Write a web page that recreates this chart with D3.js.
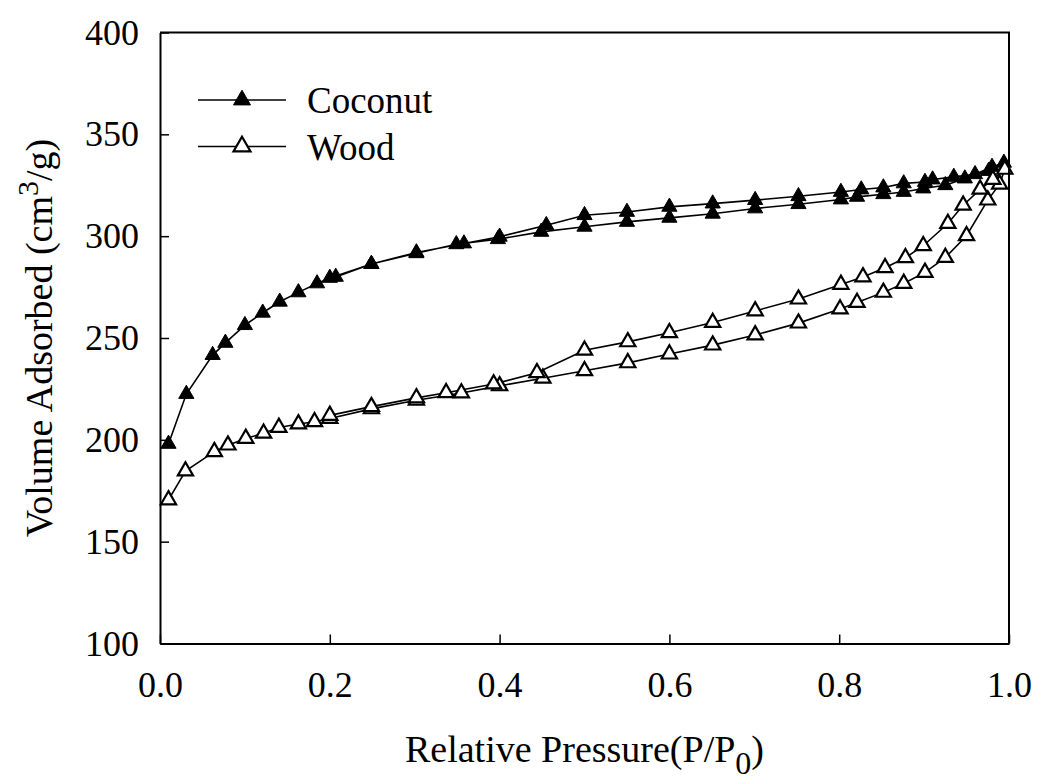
<!DOCTYPE html>
<html>
<head>
<meta charset="utf-8">
<script src="https://cdn.jsdelivr.net/npm/d3@7"></script>
</head>
<body style="margin:0">
<script>
// coconut, adsorption branch then desorption branch
const coconutAdsP = [0.010, 0.031, 0.062, 0.077, 0.100, 0.121, 0.141, 0.163, 0.185, 0.200, 0.249, 0.302, 0.349, 0.398, 0.449, 0.500, 0.550, 0.600, 0.651, 0.701, 0.752, 0.802, 0.821, 0.852, 0.876, 0.899, 0.925, 0.948, 0.976, 0.994]
const coconutAdsV = [198, 222.5, 241.6, 247.6, 256.3, 262.4, 267.8, 272.4, 276.8, 279.5, 286.3, 291.6, 296.0, 298.5, 302.1, 304.6, 307.0, 309.0, 311.0, 313.6, 315.7, 318.0, 319.3, 320.6, 321.7, 323.4, 325.0, 328.3, 332.0, 336.0]
const coconutDesP = [0.980, 0.960, 0.935, 0.910, 0.901, 0.876, 0.852, 0.826, 0.802, 0.752, 0.701, 0.651, 0.600, 0.550, 0.500, 0.455, 0.400, 0.358, 0.302, 0.249, 0.207]
const coconutDesV = [334.0, 330.4, 329.1, 327.8, 326.6, 325.9, 323.9, 322.9, 321.7, 319.6, 317.7, 316.0, 314.4, 311.9, 310.3, 305.4, 299.7, 296.4, 292.0, 286.3, 280.0]

// wood
const woodAdsP = [0.010, 0.030, 0.064, 0.080, 0.101, 0.122, 0.140, 0.163, 0.182, 0.200, 0.249, 0.302, 0.355, 0.400, 0.451, 0.500, 0.551, 0.600, 0.651, 0.701, 0.752, 0.801, 0.821, 0.852, 0.876, 0.901, 0.925, 0.950, 0.975, 0.989]
const woodAdsV = [170.5, 184.7, 194.2, 197.4, 200.7, 203.2, 206.1, 207.8, 208.9, 210.5, 215.2, 219.4, 223.0, 226.5, 230.2, 233.9, 237.8, 242.1, 246.5, 251.5, 257.3, 264.2, 267.4, 272.4, 276.8, 282.2, 289.5, 300.2, 317.7, 325.5]
const woodDesP = [0.995, 0.981, 0.966, 0.946, 0.928, 0.899, 0.878, 0.854, 0.828, 0.802, 0.752, 0.701, 0.651, 0.600, 0.551, 0.500, 0.444, 0.393, 0.337, 0.302, 0.249, 0.200]
const woodDesV = [332.8, 327.8, 323.0, 315.2, 306.2, 295.3, 289.4, 284.5, 280.0, 276.3, 269.1, 263.3, 257.6, 252.6, 248.1, 244.0, 232.9, 227.4, 223.1, 220.6, 216.3, 212.0]

const seriesNames = ['Coconut', 'Wood']
const xTicks = [0, 0.2, 0.4, 0.6, 0.8, 1.0]
const yTicks = [100, 150, 200, 250, 300, 350, 400]

const width = 1038
const height = 780
const margin = {top: 32.5, bottom: 136.5, left: 160, right: 29}
const serif = '"Liberation Serif"'

const toPoints = (p, v) => p.map((d, i) => ({x: d, y: v[i]}))

const series = [
  {name: seriesNames[0], filled: true,
   points: toPoints(coconutAdsP, coconutAdsV).concat(toPoints(coconutDesP, coconutDesV))},
  {name: seriesNames[1], filled: false,
   points: toPoints(woodAdsP, woodAdsV).concat(toPoints(woodDesP, woodDesV))}
]

const svg = d3.select('body')
  .append('svg')
  .attr('width', width)
  .attr('height', height)

const xScale = d3.scaleLinear()
  .domain([0, 1])
  .range([margin.left, width - margin.right])

const yScale = d3.scaleLinear()
  .domain([100, 400])
  .range([height - margin.bottom, margin.top])

const line = d3.line()
  .x(d => xScale(d.x))
  .y(d => yScale(d.y))

const tri = d3.symbol().type(d3.symbolTriangle).size(100)

const graph = svg.append('g')

series.forEach(s => {
  graph.append('path')
    .attr('d', line(s.points))
    .attr('fill', 'none')
    .attr('stroke', '#000')
    .attr('stroke-width', 1.6)

  graph.selectAll(null)
    .data(s.points)
    .enter()
    .append('path')
    .attr('d', tri)
    .attr('transform', d => `translate(${xScale(d.x)},${yScale(d.y)})`)
    .attr('fill', s.filled ? '#000' : '#fff')
    .attr('stroke', '#000')
    .attr('stroke-width', s.filled ? 1 : 2.2)
})

// axes (ticks point inward)
const xAxis = svg.append('g')
  .attr('transform', `translate(0,${yScale(100)})`)
  .call(d3.axisBottom(xScale).tickValues(xTicks).tickFormat(d3.format('.1f'))
    .tickSizeInner(-9).tickSizeOuter(0).tickPadding(28))

const yAxis = svg.append('g')
  .attr('transform', `translate(${xScale(0)},0)`)
  .call(d3.axisLeft(yScale).tickValues(yTicks)
    .tickSizeInner(-9).tickSizeOuter(0).tickPadding(21))

;[xAxis, yAxis].forEach(a => {
  a.attr('font-family', null).attr('font-size', null)
  a.select('.domain').attr('stroke-width', 2)
  a.selectAll('.tick line').attr('stroke-width', 1.5)
  a.selectAll('.tick text')
    .attr('fill', '#000')
    .attr('font-size', 36)
    .style('font-family', serif)
})

// frame: top and right
svg.append('path')
  .attr('d', `M${xScale(0)},${yScale(400)}H${xScale(1)}V${yScale(100)}`)
  .attr('fill', 'none')
  .attr('stroke', '#000')
  .attr('stroke-width', 2)

// axis titles
const xTitle = svg.append('text')
  .attr('x', (xScale(0) + xScale(1)) / 2)
  .attr('y', 762)
  .attr('text-anchor', 'middle')
  .attr('font-size', 38)
  .style('font-family', serif)
xTitle.append('tspan').text('Relative Pressure(P/P')
xTitle.append('tspan').attr('dy', 12).attr('font-size', 32).text('0')
xTitle.append('tspan').attr('dy', -12).text(')')

const yTitle = svg.append('text')
  .attr('transform', `translate(52,${(yScale(100) + yScale(400)) / 2}) rotate(-90)`)
  .attr('text-anchor', 'middle')
  .attr('font-size', 38)
  .style('font-family', serif)
yTitle.append('tspan').text('Volume Adsorbed (cm')
yTitle.append('tspan').attr('dy', -14).attr('font-size', 30).text('3')
yTitle.append('tspan').attr('dy', 14).text('/g)')

// legend
const legendTri = d3.symbol().type(d3.symbolTriangle).size(125)

const legend = svg.append('g')
  .selectAll('g')
  .data(series)
  .enter()
  .append('g')
  .attr('transform', (d, i) => `translate(198,${100 + i * 46.5})`)

legend.append('line')
  .attr('x1', 0).attr('x2', 88)
  .attr('stroke', '#000').attr('stroke-width', 1.6)

legend.append('path')
  .attr('d', legendTri)
  .attr('transform', 'translate(44,0)')
  .attr('fill', d => d.filled ? '#000' : '#fff')
  .attr('stroke', '#000')
  .attr('stroke-width', d => d.filled ? 1 : 2.2)

legend.append('text')
  .attr('x', 109)
  .attr('y', 13)
  .attr('font-size', 37)
  .style('font-family', serif)
  .text(d => d.name)
</script>
</body>
</html>
